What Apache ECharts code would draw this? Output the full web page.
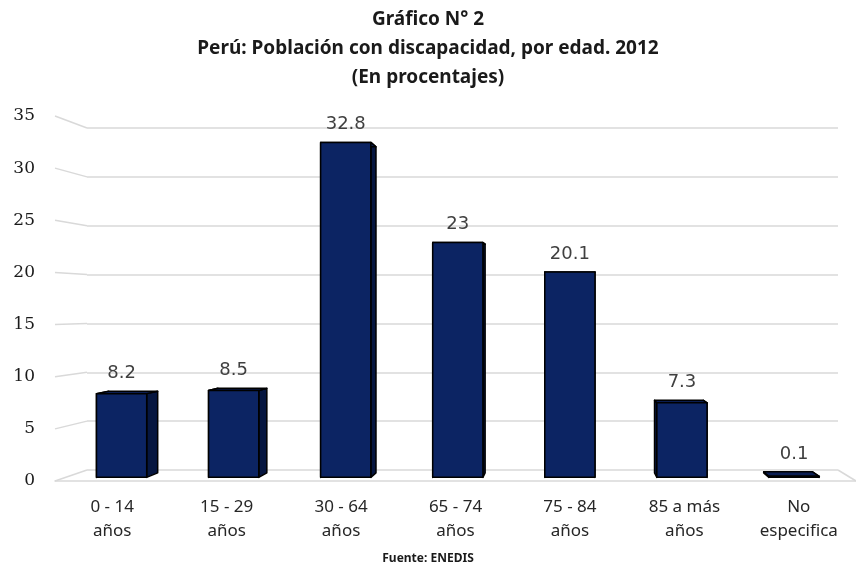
<!DOCTYPE html>
<html>
<head>
<meta charset="utf-8">
<script src="https://cdn.jsdelivr.net/npm/echarts@6/dist/echarts.min.js"></script>
<style>
  html, body { margin: 0; padding: 0; background: #fff; }
  #chart { width: 856px; height: 569px; }
</style>
</head>
<body>
<div id="chart"></div>
<script>
const categories = ['0 - 14\naños', '15 - 29\naños', '30 - 64\naños', '65 - 74\naños', '75 - 84\naños', '85 a más\naños', 'No\nespecifica'];
const values = [8.2, 8.5, 32.8, 23, 20.1, 7.3, 0.1];
const yTicks = [0, 5, 10, 15, 20, 25, 30, 35];

const dom = document.getElementById('chart');
const myChart = echarts.init(dom);

// bar depth (0 = front plane, 1 = back wall) and half width in band units
const Z_FRONT = 0.33, Z_BACK = 0.74, HALF = 0.224;
const lerp = (a, b, t) => a + (b - a) * t;
const backPx = (i, v) => myChart.convertToPixel({ xAxisIndex: 1, yAxisIndex: 1 }, [i, v]);
const backBand = () => backPx(1, 0)[0] - backPx(0, 0)[0];

function renderBar(params, api) {
  const i = api.value(0), v = api.value(1);
  const bwf = api.size([1, 0])[0], bwb = backBand();
  const pt = (u, val, z) => {
    const f = api.coord([i, val]), b = backPx(i, val);
    return [lerp(f[0] + u * bwf, b[0] + u * bwb, z), lerp(f[1], b[1], z)];
  };
  const poly = (points, fill) => ({
    type: 'polygon', shape: { points: points },
    style: { fill: fill, stroke: '#000', lineWidth: 1.5, lineJoin: 'round' }
  });
  const fTL = pt(-HALF, v, Z_FRONT), fTR = pt(HALF, v, Z_FRONT);
  const fBL = pt(-HALF, 0, Z_FRONT), fBR = pt(HALF, 0, Z_FRONT);
  const bTL = pt(-HALF, v, Z_BACK), bTR = pt(HALF, v, Z_BACK);
  const bBL = pt(-HALF, 0, Z_BACK), bBR = pt(HALF, 0, Z_BACK);
  const top = Math.min(fTL[1], bTL[1]);
  return {
    type: 'group',
    children: [
      poly([fTR, bTR, bBR, fBR], '#061640'),
      poly([fTL, bTL, bBL, fBL], '#061640'),
      poly([fTL, fTR, bTR, bTL], '#0a1d52'),
      poly([fTL, fTR, fBR, fBL], '#0c2463'),
      {
        type: 'text',
        style: {
          x: (fTL[0] + fTR[0]) / 2, y: top - 9,
          text: String(v), align: 'center', verticalAlign: 'bottom',
          fill: '#404040', font: '18px "DejaVu Sans"'
        }
      }
    ]
  };
}

// slanted part of the gridlines between the front edge and the back wall
function renderSlant(params, api) {
  const v = api.value(1);
  const cs = params.coordSys;
  const fy = api.coord([0, v])[1];
  const b = backPx(0, v), half = backBand() / 2;
  const lines = [{
    type: 'polyline',
    shape: { points: [[cs.x, fy], [b[0] - half, b[1]]] },
    style: { stroke: '#d9d9d9', lineWidth: 1.5, fill: null }
  }];
  if (v === 0) {
    const br = backPx(categories.length - 1, 0);
    lines.push({
      type: 'polyline',
      shape: { points: [[br[0] + half, br[1]], [cs.x + cs.width, fy]] },
      style: { stroke: '#d9d9d9', lineWidth: 1.5, fill: null }
    });
  }
  return { type: 'group', children: lines };
}

const option = {
  animation: false,
  title: {
    text: 'Gráfico N° 2\nPerú: Población con discapacidad, por edad. 2012\n(En procentajes)',
    left: 'center', top: 0,
    textStyle: { fontFamily: 'Noto Sans', fontWeight: 'bold', fontSize: 19, lineHeight: 29, color: '#1a1a1a' }
  },
  graphic: [{
    type: 'text', left: 'center', top: 553,
    style: { text: 'Fuente: ENEDIS', font: 'bold 12px "Noto Sans"', fill: '#1a1a1a' }
  }],
  grid: [
    { left: 55, top: 116, width: 812, height: 365 },
    { left: 87, top: 128, width: 751, height: 342 }
  ],
  xAxis: [
    {
      type: 'category', gridIndex: 0, data: categories,
      axisLine: { lineStyle: { color: '#d9d9d9', width: 1.5 } },
      axisTick: { length: 7, lineStyle: { color: '#bfbfbf', width: 1.5 } },
      axisLabel: { margin: 14, fontFamily: 'Noto Sans', fontSize: 17, lineHeight: 24, color: '#262626' }
    },
    {
      type: 'category', gridIndex: 1, data: categories, show: false
    }
  ],
  yAxis: [
    {
      type: 'value', gridIndex: 0, min: 0, max: 35, interval: 5,
      axisLine: { show: false }, axisTick: { show: false }, splitLine: { show: false },
      axisLabel: { margin: 20, fontFamily: 'DejaVu Serif', fontSize: 17, color: '#1a1a1a' }
    },
    {
      type: 'value', gridIndex: 1, min: 0, max: 35, interval: 5,
      axisLine: { show: false }, axisTick: { show: false }, axisLabel: { show: false },
      splitLine: { lineStyle: { color: '#d9d9d9', width: 1.5 } }
    }
  ],
  series: [
    {
      type: 'custom', xAxisIndex: 0, yAxisIndex: 0, z: 1,
      renderItem: renderSlant,
      data: yTicks.map(v => [0, v])
    },
    {
      type: 'custom', xAxisIndex: 0, yAxisIndex: 0, z: 5,
      renderItem: renderBar,
      data: values.map((v, i) => [i, v])
    }
  ]
};
myChart.setOption(option);
// render again so the back grid is ready for convertToPixel
myChart.setOption(option, true);
</script>
</body>
</html>
